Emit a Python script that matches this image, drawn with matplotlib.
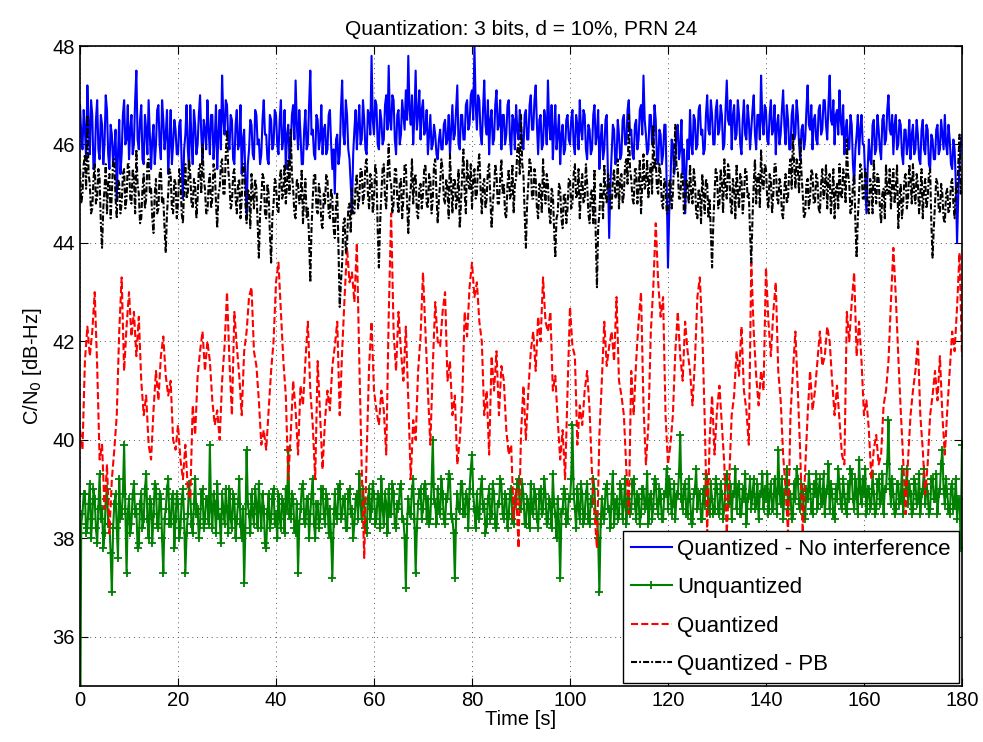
import numpy as np
import matplotlib
matplotlib.use('Agg')
import matplotlib.pyplot as plt

plt.rcParams['font.family'] = ['Liberation Sans', 'DejaVu Sans']

# C/N0 estimates [dB-Hz]
# blue / green / black: one sample every 0.25 s, red: every 0.5 s
quant_no_interf = [
    46.8, 46.2, 45.9, 46.7, 46.3, 45.7, 47.2, 46.4, 45.8, 46.9, 46.6, 45.5, 45.6, 46.5, 46.9, 45.9, 45.7, 46.6, 46.4, 45.6,
    46.0, 47.0, 46.7, 45.8, 45.5, 46.4, 46.2, 45.6, 45.9, 46.3, 44.9, 45.8, 46.5, 45.4, 45.8, 46.6, 46.9, 46.0, 46.1, 46.8,
    45.7, 46.3, 46.6, 45.8, 46.0, 46.9, 47.5, 46.1, 45.9, 46.5, 46.8, 45.7, 45.6, 46.6, 46.3, 45.8, 46.9, 46.2, 45.5, 46.1,
    46.4, 45.6, 46.0, 46.7, 46.8, 46.0, 45.7, 46.9, 46.5, 45.9, 46.2, 46.7, 45.4, 46.0, 46.7, 45.6, 46.0, 46.5, 46.3, 45.8,
    45.8, 46.4, 46.5, 45.6, 44.9, 45.9, 46.2, 46.8, 45.9, 45.5, 46.8, 46.1, 45.6, 46.7, 46.4, 45.8, 46.0, 46.6, 47.0, 46.2,
    45.7, 46.5, 46.3, 45.9, 46.9, 46.3, 45.8, 46.6, 46.6, 45.7, 46.1, 46.8, 45.5, 46.2, 46.7, 45.9, 47.4, 46.5, 46.2, 46.9,
    46.8, 46.1, 45.9, 46.6, 46.5, 45.7, 45.6, 46.4, 46.7, 45.9, 46.0, 46.8, 45.4, 46.1, 46.3, 45.3, 44.6, 45.6, 45.9, 46.5,
    46.4, 45.8, 45.7, 46.7, 46.6, 46.0, 46.1, 45.6, 45.8, 46.5, 46.9, 46.2, 46.2, 45.7, 45.6, 46.6, 46.5, 45.9, 46.0, 46.7,
    46.6, 46.0, 45.8, 46.5, 46.9, 45.9, 46.1, 46.7, 45.5, 46.2, 46.4, 45.7, 46.0, 46.6, 46.8, 46.1, 47.3, 46.4, 45.9, 46.7,
    46.2, 45.6, 45.6, 46.3, 46.7, 45.9, 46.0, 46.8, 47.5, 46.2, 46.3, 45.8, 45.7, 46.6, 46.5, 45.9, 46.1, 46.8, 45.8, 46.3,
    46.4, 45.8, 45.9, 46.6, 46.7, 46.0, 45.5, 45.9, 45.0, 46.1, 46.2, 45.6, 45.8, 46.7, 47.3, 46.2, 46.0, 46.9, 46.6, 45.9,
    45.7, 45.2, 44.6, 45.8, 46.3, 46.7, 45.9, 46.4, 46.8, 46.0, 46.1, 46.9, 46.5, 45.9, 45.8, 46.7, 46.6, 46.2, 47.8, 46.5,
    46.2, 46.9, 46.8, 46.0, 45.9, 46.7, 46.5, 46.0, 46.1, 46.8, 47.0, 46.3, 47.6, 46.5, 46.3, 47.0, 46.9, 46.1, 45.8, 46.6,
    46.7, 46.0, 46.2, 46.9, 46.6, 46.3, 47.1, 46.5, 47.8, 46.7, 46.4, 47.0, 46.0, 46.6, 47.5, 46.3, 46.6, 47.1, 46.1, 46.7,
    46.9, 46.2, 46.3, 46.7, 45.8, 46.2, 46.6, 45.9, 46.0, 46.4, 46.2, 45.8, 45.7, 46.1, 46.3, 45.9, 45.9, 46.4, 46.5, 46.0,
    46.1, 46.6, 45.8, 46.3, 46.8, 46.1, 46.2, 46.7, 47.2, 46.0, 45.9, 46.6, 46.6, 46.1, 46.1, 46.8, 46.9, 46.3, 46.4, 47.0,
    47.1, 46.5, 48.0, 46.8, 46.3, 47.0, 46.9, 46.2, 46.0, 46.7, 47.3, 46.4, 46.2, 46.9, 45.8, 46.5, 46.7, 46.0, 46.1, 46.8,
    47.1, 46.3, 46.4, 46.9, 45.9, 46.6, 46.6, 46.0, 46.2, 46.8, 46.9, 46.1, 45.8, 46.6, 46.5, 45.9, 46.8, 46.3, 46.1, 46.7,
    46.4, 46.0, 45.9, 46.6, 46.7, 46.1, 46.1, 46.8, 47.0, 46.3, 46.3, 46.9, 47.2, 46.4, 45.8, 46.5, 46.6, 45.9, 46.0, 46.7,
    46.5, 46.0, 47.3, 46.4, 46.1, 46.8, 45.7, 46.3, 46.8, 45.9, 46.2, 46.6, 45.6, 46.2, 46.4, 45.8, 45.9, 46.5, 46.6, 46.1,
    46.0, 46.5, 46.7, 46.0, 45.8, 46.6, 46.4, 45.9, 46.9, 46.3, 46.1, 46.7, 46.6, 45.9, 45.7, 46.4, 46.3, 45.8, 45.9, 46.6,
    46.8, 46.0, 46.2, 46.7, 45.5, 46.1, 46.4, 45.7, 45.9, 46.5, 46.6, 45.3, 44.1, 45.2, 45.8, 46.4, 46.3, 45.6, 45.7, 46.5,
    46.2, 45.7, 45.8, 46.5, 46.6, 46.0, 46.0, 46.7, 46.9, 46.2, 46.3, 45.8, 45.7, 46.4, 46.5, 45.9, 46.1, 46.7, 46.8, 46.2,
    47.4, 46.5, 46.2, 45.8, 45.9, 46.6, 46.6, 46.0, 46.0, 46.8, 46.5, 45.7, 45.6, 46.3, 46.2, 45.6, 45.8, 46.4, 46.4, 45.1,
    43.5, 44.6, 45.2, 46.1, 46.0, 45.4, 45.6, 46.3, 46.4, 45.7, 45.9, 46.5, 45.4, 45.9, 44.6, 45.5, 46.1, 45.7, 46.7, 46.0,
    45.8, 46.6, 46.5, 45.9, 46.0, 46.7, 46.8, 46.2, 46.3, 45.8, 45.9, 46.6, 47.0, 46.3, 46.2, 46.9, 46.6, 46.0, 46.0, 46.7,
    46.9, 46.2, 46.3, 46.8, 46.6, 45.9, 46.0, 46.7, 47.3, 46.5, 46.4, 46.9, 45.9, 46.6, 46.8, 46.1, 46.2, 46.9, 46.6, 46.0,
    45.8, 46.5, 46.9, 46.2, 46.1, 46.8, 46.5, 45.9, 46.3, 46.7, 47.0, 46.2, 45.9, 46.6, 46.6, 46.1, 47.4, 46.5, 46.2, 46.8,
    46.7, 46.1, 46.0, 46.6, 46.9, 46.2, 46.3, 46.8, 45.8, 46.4, 46.6, 46.0, 46.2, 46.7, 47.1, 46.4, 46.0, 46.8, 46.5, 45.9,
    45.9, 46.6, 46.8, 46.1, 46.2, 46.9, 46.6, 46.0, 45.7, 46.3, 46.4, 45.9, 46.1, 46.7, 47.2, 46.4, 46.3, 46.8, 45.9, 46.5,
    46.6, 46.1, 46.0, 46.7, 46.8, 46.2, 46.3, 46.9, 46.9, 46.4, 46.1, 46.8, 47.4, 46.5, 46.4, 46.9, 46.0, 46.6, 46.7, 46.2,
    47.1, 46.5, 46.2, 46.8, 45.8, 46.3, 46.5, 45.9, 45.9, 46.6, 46.4, 45.6, 45.2, 45.9, 46.2, 46.6, 45.8, 46.3, 46.6, 46.0,
    46.0, 45.3, 44.6, 45.5, 46.1, 45.7, 45.6, 46.4, 46.5, 45.8, 45.9, 46.6, 46.3, 45.9, 45.7, 46.5, 46.6, 46.0, 46.1, 46.7,
    47.0, 46.3, 46.2, 46.6, 45.8, 46.4, 46.6, 45.9, 46.0, 46.5, 46.4, 45.8, 45.6, 46.3, 46.3, 45.8, 46.0, 46.5, 45.7, 46.2,
    46.4, 45.8, 45.9, 46.5, 46.2, 45.7, 45.6, 46.3, 46.5, 45.9, 45.8, 46.4, 46.3, 45.6, 45.5, 46.2, 46.1, 45.7, 45.7, 46.3,
    46.4, 45.8, 45.9, 46.5, 46.2, 45.9, 46.6, 46.0, 45.8, 46.4, 46.1, 45.6, 45.5, 46.1, 45.9, 45.2, 44.0, 45.0, 45.6, 46.0,
    46.2,
]

unquantized = [
    33.0, 38.3, 38.5, 38.9, 38.9, 38.1, 38.2, 38.7, 39.1, 38.0, 38.4, 39.0, 38.8, 38.2, 37.9, 38.6, 39.3, 38.4, 38.6, 37.8,
    38.1, 38.8, 39.0, 38.3, 38.3, 37.7, 36.9, 38.2, 38.7, 38.9, 38.2, 37.6, 39.2, 38.4, 38.5, 38.9, 39.9, 38.6, 37.3, 38.5,
    38.8, 38.1, 38.3, 38.9, 39.1, 38.5, 38.6, 37.8, 37.9, 38.7, 38.9, 38.2, 38.4, 39.0, 39.3, 38.4, 38.0, 38.8, 38.7, 37.9,
    38.5, 39.1, 39.0, 38.3, 38.2, 38.9, 38.8, 38.0, 37.3, 38.4, 38.6, 39.0, 39.2, 38.3, 38.3, 38.8, 38.9, 37.8, 38.4, 38.9,
    38.7, 38.0, 38.2, 38.8, 39.0, 38.4, 37.3, 38.1, 38.5, 39.1, 38.9, 38.3, 38.1, 38.7, 39.2, 38.5, 38.6, 38.0, 38.3, 38.9,
    39.0, 38.2, 38.4, 38.8, 38.8, 38.3, 39.9, 38.6, 38.2, 38.9, 38.7, 38.1, 39.1, 38.5, 38.4, 37.9, 38.9, 38.6, 38.3, 39.0,
    38.6, 38.1, 39.0, 38.4, 38.2, 38.9, 38.8, 38.0, 38.4, 38.7, 39.2, 38.3, 38.0, 38.6, 37.1, 38.2, 39.8, 38.7, 38.5, 38.1,
    38.9, 38.5, 38.3, 39.0, 38.7, 38.2, 39.1, 38.6, 38.2, 38.9, 38.6, 37.9, 37.8, 38.5, 38.9, 38.2, 38.4, 38.8, 39.0, 38.3,
    38.5, 38.0, 38.9, 38.4, 38.2, 38.8, 38.7, 38.1, 39.0, 38.6, 39.8, 38.5, 38.4, 38.9, 38.8, 38.2, 38.1, 38.7, 37.3, 38.3,
    38.6, 39.0, 39.1, 38.4, 38.3, 38.8, 38.8, 38.0, 38.5, 38.9, 39.2, 38.3, 38.0, 38.7, 38.7, 38.2, 38.4, 39.0, 39.0, 38.5,
    38.3, 38.9, 38.8, 38.1, 38.6, 38.0, 37.2, 38.3, 38.9, 38.5, 38.4, 39.0, 39.1, 38.4, 38.5, 38.8, 38.8, 38.2, 38.2, 38.9,
    39.0, 38.5, 38.6, 38.0, 38.3, 38.8, 38.9, 38.4, 39.3, 38.7, 38.4, 39.0, 38.7, 38.2, 38.1, 38.8, 39.0, 38.4, 38.6, 39.1,
    38.9, 38.3, 38.4, 38.9, 38.8, 38.2, 39.2, 38.6, 38.3, 38.9, 38.7, 38.1, 39.0, 38.5, 38.5, 39.1, 38.9, 38.3, 38.2, 38.7,
    38.6, 39.0, 39.1, 38.4, 38.4, 38.0, 37.0, 38.3, 38.8, 38.5, 38.5, 39.0, 39.2, 38.4, 37.3, 38.2, 38.7, 38.9, 39.0, 38.4,
    38.6, 39.0, 39.1, 38.4, 38.8, 38.3, 38.4, 39.1, 40.0, 38.8, 38.7, 38.3, 39.0, 38.6, 38.5, 39.2, 38.9, 38.4, 38.3, 38.8,
    38.8, 39.3, 39.2, 38.5, 38.4, 38.1, 37.2, 38.4, 38.9, 38.6, 38.6, 39.1, 39.1, 38.5, 38.5, 38.9, 38.8, 38.2, 39.0, 39.4,
    39.7, 38.9, 38.6, 38.2, 38.9, 38.5, 38.4, 39.0, 39.2, 38.6, 38.7, 38.1, 38.3, 38.8, 39.0, 38.4, 38.5, 39.1, 38.9, 38.3,
    38.2, 38.7, 38.7, 39.2, 39.1, 38.5, 38.4, 38.9, 38.8, 38.2, 38.5, 38.9, 39.0, 38.4, 38.3, 38.8, 38.7, 39.1, 39.2, 38.6,
    38.6, 39.1, 38.9, 38.3, 38.3, 38.8, 38.7, 38.2, 39.1, 38.6, 38.5, 39.0, 38.8, 38.4, 38.2, 38.9, 39.0, 38.5, 38.6, 39.2,
    38.9, 38.3, 38.4, 38.8, 38.7, 38.2, 39.3, 38.7, 38.5, 38.0, 38.8, 38.3, 37.2, 38.5, 38.6, 39.0, 38.9, 38.3, 38.4, 38.8,
    38.8, 39.2, 40.3, 38.9, 38.6, 38.2, 39.0, 38.6, 38.4, 39.1, 38.9, 38.3, 38.5, 38.9, 39.1, 38.4, 38.3, 38.8, 38.7, 39.2,
    39.0, 38.4, 38.5, 38.0, 36.9, 38.3, 38.8, 38.5, 38.4, 39.0, 39.1, 38.6, 38.6, 38.2, 38.9, 39.3, 38.3, 38.7, 38.8, 38.4,
    38.5, 39.1, 39.0, 38.4, 38.7, 39.2, 38.3, 38.8, 38.9, 38.5, 38.6, 39.1, 39.2, 38.7, 38.4, 38.9, 38.8, 38.3, 38.5, 39.0,
    39.0, 38.6, 38.7, 39.3, 38.3, 38.8, 38.9, 38.4, 38.6, 39.2, 39.1, 38.7, 38.5, 39.0, 38.8, 38.4, 38.4, 38.9, 38.9, 39.4,
    38.6, 39.2, 39.0, 38.5, 38.7, 39.1, 38.4, 38.9, 38.9, 39.3, 40.1, 38.8, 38.6, 39.0, 39.1, 38.5, 38.5, 39.2, 38.8, 38.4,
    38.3, 38.9, 39.0, 39.4, 38.6, 38.9, 38.9, 38.4, 38.4, 39.0, 38.7, 39.3, 39.2, 38.6, 38.5, 39.1, 38.8, 38.5, 38.6, 39.2,
    39.0, 38.6, 38.5, 39.1, 38.9, 38.4, 38.6, 39.2, 39.3, 38.8, 38.7, 39.1, 38.4, 38.9, 38.9, 39.4, 38.6, 39.0, 39.1, 38.5,
    38.5, 39.0, 38.8, 39.3, 38.3, 38.8, 38.9, 39.2, 38.6, 38.9, 39.2, 38.6, 38.7, 39.1, 38.4, 38.9, 38.9, 39.3, 38.6, 39.0,
    38.8, 39.3, 38.5, 38.9, 39.1, 38.6, 38.6, 39.2, 38.9, 38.5, 39.8, 39.0, 38.7, 39.2, 38.4, 38.9, 39.0, 39.4, 38.6, 38.9,
    38.9, 38.4, 38.5, 39.1, 38.8, 39.4, 39.2, 38.7, 38.6, 39.1, 38.9, 38.5, 38.4, 39.0, 38.8, 39.3, 39.0, 38.6, 38.5, 39.1,
    38.9, 39.3, 38.6, 39.0, 39.2, 38.7, 38.7, 39.3, 38.5, 38.9, 39.0, 39.5, 38.6, 39.1, 38.9, 38.5, 38.4, 39.0, 38.8, 39.4,
    39.1, 38.7, 38.6, 39.2, 38.9, 38.6, 38.5, 39.1, 38.8, 39.4, 39.3, 38.8, 38.6, 39.2, 38.9, 38.5, 39.6, 39.0, 38.7, 39.2,
    38.9, 39.4, 38.5, 39.0, 39.0, 38.6, 38.7, 39.3, 38.9, 38.5, 38.6, 39.1, 39.2, 38.7, 38.8, 39.3, 38.5, 39.0, 39.0, 39.5,
    40.4, 39.1, 38.7, 39.2, 38.9, 38.5, 38.6, 39.1, 39.1, 38.7, 38.8, 39.4, 38.5, 38.9, 39.0, 39.4, 38.7, 39.1, 38.9, 38.5,
    38.6, 39.2, 39.1, 38.7, 38.8, 39.3, 38.5, 38.9, 39.0, 39.4, 38.7, 39.1, 38.9, 38.5, 38.6, 39.2, 39.2, 38.8, 38.8, 39.3,
    38.5, 38.9, 39.0, 39.5, 39.8, 39.0, 38.7, 39.2, 38.9, 38.6, 38.5, 39.0, 39.1, 38.6, 38.7, 39.2, 38.4, 38.8, 38.8, 37.8,
    39.9,
]

quantized = [
    40.2, 39.8, 41.6, 42.3, 41.7, 42.2, 43.0, 41.5, 39.6, 39.9, 38.6, 39.5, 38.1, 39.2, 39.8, 40.5, 42.2, 43.3, 41.4, 42.3,
    43.0, 42.1, 42.6, 41.7, 42.5, 41.2, 40.5, 40.9, 39.9, 39.6, 40.6, 41.4, 40.8, 41.7, 42.1, 41.3, 40.9, 41.2, 40.0, 39.8,
    40.3, 39.6, 39.2, 39.9, 39.0, 38.8, 40.7, 40.1, 41.3, 41.8, 42.2, 41.4, 42.0, 41.6, 40.8, 40.3, 40.6, 40.0, 41.2, 41.9,
    43.0, 41.6, 40.5, 42.6, 41.9, 41.3, 40.5, 41.8, 42.2, 42.9, 43.1, 41.8, 41.5, 40.8, 39.9, 40.2, 39.8, 40.6, 41.4, 42.0,
    43.2, 43.6, 42.6, 41.6, 40.9, 39.2, 40.1, 41.2, 40.6, 39.7, 41.1, 40.7, 41.6, 42.4, 41.0, 40.3, 39.2, 41.6, 40.5, 39.4,
    40.4, 41.0, 40.6, 41.5, 41.9, 42.4, 40.5, 41.8, 42.9, 43.9, 43.2, 43.4, 42.8, 44.0, 41.6, 39.4, 37.6, 39.7, 41.5, 42.4,
    41.0, 40.6, 40.3, 41.0, 40.6, 39.7, 42.5, 44.6, 42.2, 41.4, 42.6, 41.8, 41.2, 42.3, 40.8, 39.2, 40.4, 40.0, 41.4, 42.1,
    43.4, 42.2, 41.0, 39.9, 41.5, 42.8, 42.0, 41.9, 42.6, 43.0, 41.2, 41.6, 40.5, 40.9, 39.5, 40.0, 40.8, 42.6, 42.1, 43.1,
    43.6, 42.9, 43.2, 42.4, 42.0, 40.5, 41.0, 39.7, 41.7, 41.0, 41.8, 40.5, 41.5, 41.2, 40.2, 39.7, 39.9, 38.4, 39.0, 37.8,
    40.1, 41.1, 40.0, 41.0, 41.8, 42.2, 41.4, 42.5, 42.0, 43.3, 42.4, 42.2, 42.6, 41.0, 41.3, 40.4, 39.6, 40.2, 39.2, 41.0,
    42.7, 41.9, 41.7, 39.9, 40.7, 40.3, 41.0, 41.4, 40.6, 39.3, 38.5, 37.8, 40.1, 41.2, 42.4, 41.5, 41.9, 42.2, 41.6, 42.9,
    41.2, 40.9, 40.5, 39.4, 38.5, 41.4, 40.5, 41.6, 42.4, 43.0, 40.7, 39.5, 40.3, 42.2, 43.1, 44.4, 43.2, 42.5, 42.9, 40.5,
    39.5, 39.9, 40.5, 41.8, 42.6, 41.7, 41.2, 42.4, 41.8, 41.4, 40.7, 41.6, 42.9, 43.3, 42.2, 40.4, 38.1, 40.0, 40.9, 39.7,
    40.6, 41.1, 40.3, 39.5, 38.1, 39.2, 40.5, 40.9, 41.8, 41.3, 42.3, 41.0, 40.6, 39.9, 43.6, 42.2, 41.3, 40.7, 41.4, 41.0,
    43.5, 42.4, 41.7, 42.6, 43.2, 41.4, 40.8, 39.7, 39.0, 38.1, 40.5, 41.4, 42.2, 41.0, 39.7, 38.1, 39.4, 40.5, 41.4, 40.6,
    41.0, 41.6, 42.2, 41.5, 41.7, 42.3, 42.0, 41.2, 40.5, 41.1, 40.4, 39.7, 39.5, 42.6, 42.0, 42.8, 43.4, 41.7, 42.4, 41.6,
    40.5, 40.8, 40.2, 39.2, 39.8, 40.1, 39.5, 39.7, 40.7, 41.0, 41.6, 42.8, 43.9, 42.9, 41.7, 40.6, 39.6, 38.5, 39.6, 40.5,
    41.0, 41.4, 42.0, 40.5, 39.8, 38.9, 39.5, 40.5, 40.9, 41.4, 40.8, 41.7, 40.5, 39.7, 40.6, 41.4, 42.2, 41.8, 42.7, 43.8,
    41.7,
]

quant_pb = [
    45.5, 44.8, 45.0, 45.6, 45.8, 45.1, 46.6, 45.4, 45.2, 44.6, 44.7, 45.3, 45.6, 44.8, 44.9, 45.5, 45.3, 44.4, 43.9, 44.7,
    45.1, 45.6, 44.6, 45.2, 45.4, 44.5, 45.0, 45.7, 45.7, 44.9, 44.5, 45.3, 45.2, 44.6, 44.8, 45.4, 45.5, 44.7, 44.9, 45.6,
    45.6, 44.9, 44.8, 45.5, 45.3, 44.6, 45.9, 45.2, 45.0, 44.4, 44.5, 45.1, 45.4, 44.7, 44.9, 45.6, 45.7, 45.0, 45.1, 44.5,
    44.2, 45.0, 45.3, 44.6, 44.7, 45.4, 45.5, 44.8, 44.9, 44.3, 43.8, 44.6, 45.0, 45.5, 45.4, 44.7, 44.6, 45.3, 45.2, 44.5,
    44.8, 45.5, 45.3, 44.6, 44.4, 45.1, 45.6, 44.9, 45.0, 45.7, 45.4, 44.8, 44.7, 45.3, 45.2, 44.5, 44.9, 45.5, 45.6, 45.0,
    46.0, 45.3, 45.1, 44.6, 44.6, 45.2, 45.4, 44.7, 44.9, 45.6, 45.5, 44.8, 44.3, 45.0, 45.1, 45.6, 45.7, 45.0, 45.0, 45.8,
    46.3, 45.5, 45.2, 44.7, 44.8, 45.4, 45.5, 44.9, 44.6, 45.2, 45.3, 44.5, 44.9, 45.6, 45.6, 44.8, 44.4, 45.1, 45.0, 44.3,
    45.4, 45.0, 44.7, 45.3, 45.1, 44.4, 43.7, 44.6, 44.9, 45.4, 45.3, 44.6, 44.5, 45.2, 45.0, 44.2, 43.6, 44.5, 44.8, 45.3,
    45.2, 44.7, 44.6, 45.3, 45.5, 44.9, 45.0, 45.6, 44.8, 45.2, 45.7, 45.0, 46.3, 45.4, 45.1, 44.6, 44.5, 45.3, 45.2, 44.8,
    44.9, 45.5, 44.4, 44.9, 45.3, 44.5, 44.7, 44.1, 43.2, 44.3, 44.9, 45.4, 45.4, 44.7, 44.6, 45.2, 45.0, 44.4, 44.3, 45.0,
    44.8, 45.4, 45.3, 44.6, 44.5, 45.1, 44.9, 44.3, 44.1, 44.8, 45.0, 43.9, 42.7, 43.2, 43.6, 44.4, 44.5, 43.8, 44.0, 44.7,
    44.8, 44.2, 45.1, 44.6, 44.6, 45.2, 45.4, 44.7, 44.9, 45.5, 45.5, 44.8, 45.0, 45.6, 45.7, 45.0, 44.7, 45.4, 45.3, 44.6,
    44.9, 45.6, 45.4, 44.3, 43.5, 44.4, 45.0, 45.5, 45.6, 44.9, 44.7, 45.4, 46.0, 45.3, 45.2, 44.6, 44.8, 45.5, 45.5, 44.9,
    44.6, 45.2, 45.3, 44.5, 44.9, 45.6, 45.6, 44.8, 44.2, 44.9, 45.1, 45.7, 44.8, 45.3, 45.4, 44.6, 44.5, 45.1, 45.2, 44.7,
    45.0, 45.5, 45.6, 44.8, 44.7, 45.4, 45.3, 44.6, 44.9, 45.6, 45.7, 45.0, 44.4, 44.9, 45.2, 45.7, 45.5, 44.9, 44.8, 45.3,
    45.1, 44.5, 45.8, 45.2, 44.6, 45.3, 45.3, 44.7, 44.9, 45.5, 44.3, 44.8, 45.4, 45.9, 45.0, 44.6, 45.7, 45.2, 45.1, 45.6,
    44.7, 45.3, 45.5, 44.9, 45.0, 45.6, 45.8, 45.1, 44.6, 45.2, 45.3, 44.7, 44.9, 45.5, 45.6, 44.9, 44.3, 44.8, 45.1, 45.6,
    45.4, 44.8, 44.8, 45.3, 45.7, 45.0, 45.2, 44.6, 44.5, 45.2, 45.5, 44.9, 45.0, 45.6, 44.6, 45.2, 45.3, 45.9, 46.0, 45.4,
    46.6, 45.6, 45.4, 44.6, 43.9, 44.8, 45.2, 45.7, 45.6, 44.9, 44.9, 45.5, 45.3, 44.7, 44.5, 45.2, 45.1, 44.6, 45.7, 45.1,
    44.8, 45.4, 45.2, 44.6, 44.4, 45.1, 45.0, 44.3, 43.7, 44.5, 44.6, 45.2, 45.1, 44.5, 44.3, 45.0, 45.0, 44.4, 44.7, 45.3,
    45.3, 44.7, 44.8, 45.4, 45.6, 44.9, 45.0, 45.5, 44.5, 45.1, 45.4, 44.8, 44.9, 45.6, 45.2, 44.6, 44.4, 45.0, 45.1, 44.4,
    45.5, 44.2, 43.1, 44.3, 44.6, 45.2, 45.0, 44.5, 45.6, 45.0, 44.8, 45.4, 45.3, 44.7, 44.7, 45.3, 45.5, 44.9, 45.0, 45.7,
    44.7, 45.3, 45.4, 44.8, 45.0, 45.6, 45.7, 45.2, 46.6, 45.5, 45.3, 44.9, 44.8, 45.5, 45.5, 44.8, 45.1, 45.7, 44.6, 45.2,
    45.8, 45.1, 45.2, 45.7, 44.9, 45.4, 45.6, 45.0, 46.4, 45.5, 45.7, 45.1, 45.0, 45.6, 45.4, 44.8, 44.7, 45.3, 45.2, 44.6,
    44.6, 45.2, 45.3, 44.7, 45.0, 45.7, 46.4, 45.5, 45.5, 44.9, 44.9, 45.4, 45.4, 44.6, 44.7, 45.3, 45.1, 44.8, 45.6, 45.0,
    44.8, 45.5, 45.3, 44.6, 44.5, 45.1, 45.0, 44.4, 45.4, 45.0, 44.6, 45.3, 45.2, 44.5, 44.9, 44.2, 43.5, 44.4, 45.0, 45.5,
    45.4, 44.7, 44.8, 45.5, 45.2, 44.6, 45.7, 45.1, 44.9, 45.6, 45.5, 44.8, 44.6, 45.3, 45.1, 44.5, 45.6, 45.0, 44.7, 45.4,
    45.3, 44.6, 44.9, 45.5, 45.5, 44.9, 45.0, 44.2, 43.6, 44.5, 45.2, 45.7, 44.8, 45.3, 45.4, 44.7, 45.9, 45.2, 45.1, 45.6,
    45.5, 44.9, 44.7, 45.4, 45.3, 44.6, 45.0, 45.6, 45.6, 44.9, 44.8, 45.3, 45.2, 44.6, 44.5, 45.1, 45.4, 44.8, 44.9, 45.5,
    45.7, 45.1, 46.2, 45.6, 45.1, 45.7, 45.5, 45.0, 46.1, 45.4, 45.0, 44.5, 44.6, 45.2, 45.3, 44.7, 44.9, 45.5, 45.4, 44.8,
    44.8, 45.4, 45.3, 44.7, 44.6, 45.2, 45.5, 44.9, 45.1, 45.6, 44.7, 45.3, 45.4, 44.6, 45.0, 45.5, 44.5, 45.1, 45.2, 44.7,
    45.6, 45.0, 44.9, 45.5, 45.3, 44.8, 46.1, 45.4, 45.2, 44.6, 44.7, 45.2, 45.4, 44.4, 43.7, 44.5, 45.0, 45.6, 45.5, 44.9,
    44.9, 45.5, 45.4, 44.7, 44.6, 45.3, 45.2, 44.6, 45.7, 45.1, 44.8, 45.4, 45.3, 44.7, 44.4, 45.0, 45.1, 44.5, 45.6, 45.0,
    45.0, 45.5, 44.7, 45.2, 45.5, 44.8, 45.1, 45.6, 44.3, 44.9, 45.2, 44.5, 44.8, 45.3, 45.4, 44.7, 44.9, 45.6, 45.3, 44.8,
    45.6, 45.0, 44.8, 45.4, 45.2, 44.6, 45.0, 45.5, 44.5, 45.1, 45.3, 44.7, 44.9, 45.4, 45.5, 44.4, 43.7, 44.3, 44.8, 45.3,
    45.2, 44.7, 44.6, 45.2, 45.0, 44.5, 44.4, 45.0, 45.1, 44.6, 44.7, 45.2, 45.3, 44.8, 44.5, 45.1, 45.0, 45.6, 46.2, 45.0,
    45.4,
]

time_fast = np.linspace(0, 180, len(quant_no_interf))
time_red = np.linspace(0, 180, len(quantized))

fig = plt.figure(figsize=(9.83, 7.42), dpi=100)
ax = fig.add_axes([0.0814, 0.0755, 0.8972, 0.8625])

ax.plot(time_fast, quant_no_interf, color='#0000ff', lw=1.5, label='Quantized - No interference')
ax.plot(time_fast, unquantized, color='#008000', lw=1.5, marker='+', ms=6, mew=1.3,
        label='Unquantized')
ax.plot(time_red, quantized, color='#ff0000', lw=1.5, ls=(0, (3.4, 1.5)), label='Quantized')
ax.plot(time_fast, quant_pb, color='k', lw=1.5, ls=(0, (2.9, 1.0, 0.9, 1.0)), label='Quantized - PB')

ax.set_xlim(0, 180)
ax.set_ylim(35, 48)
ax.set_xticks(np.arange(0, 181, 20))
ax.set_yticks(np.arange(36, 49, 2))
ax.tick_params(direction='in', length=6, width=0.8, top=True, right=True, labelsize=14.5)
ax.grid(True, ls=(0, (1, 4)), color='0.35', lw=0.7)
for sp in ax.spines.values():
    sp.set_linewidth(1.2)

ax.set_title('Quantization: 3 bits, d = 10%, PRN 24', fontsize=15, pad=8)
ax.set_xlabel('Time [s]', fontsize=14.5, labelpad=0)
ax.set_ylabel('C/N$_0$ [dB-Hz]', fontsize=14.5, labelpad=6)

leg = ax.legend(loc='lower right', fontsize=16, fancybox=False, framealpha=1,
                edgecolor='k', handlelength=1.85, handletextpad=0.25,
                labelspacing=0.78, borderaxespad=0.15, borderpad=0.35)
leg.get_frame().set_linewidth(1.0)

fig.savefig('out.png', dpi=100)
